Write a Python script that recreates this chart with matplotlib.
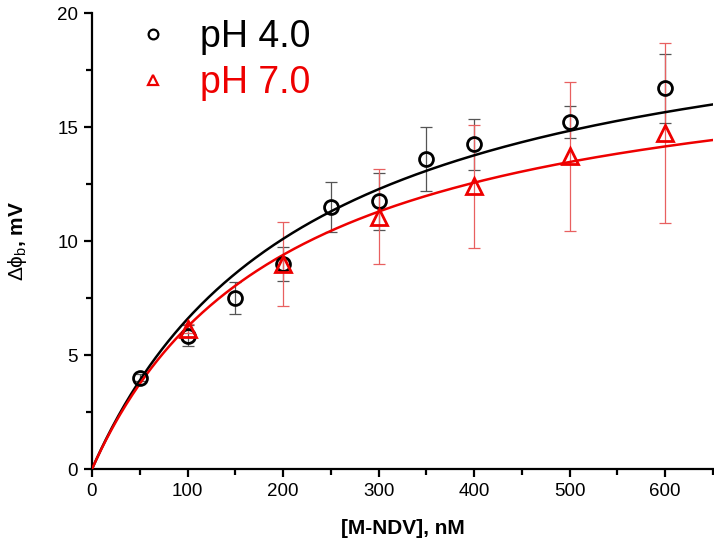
import numpy as np
import matplotlib
matplotlib.use("Agg")
import matplotlib.pyplot as plt
from matplotlib.ticker import MultipleLocator

plt.rcParams['font.family'] = ['Liberation Sans', 'DejaVu Sans']
plt.rcParams['mathtext.fontset'] = 'custom'
plt.rcParams['mathtext.rm'] = 'Liberation Sans'
plt.rcParams['mathtext.it'] = 'Liberation Sans'
plt.rcParams['mathtext.bf'] = 'Liberation Sans:bold'

# pH 4.0 data
x_ph4 = [50, 100, 150, 200, 250, 300, 350, 400, 500, 600]
y_ph4 = [4.0, 5.85, 7.5, 9.0, 11.5, 11.75, 13.6, 14.25, 15.2, 16.7]
e_ph4 = [0.15, 0.45, 0.7, 0.75, 1.1, 1.25, 1.4, 1.12, 0.7, 1.52]

# pH 7.0 data
x_ph7 = [100, 200, 300, 400, 500, 600]
y_ph7 = [6.15, 9.0, 11.07, 12.4, 13.72, 14.75]
e_ph7 = [0.2, 1.85, 2.1, 2.7, 3.27, 3.95]

# hyperbolic fit parameters (Bmax, Kd)
fit_ph4 = (21.6, 228.0)
fit_ph7 = (18.95, 203.6)

xlim = (0, 650)
ylim = (0, 20)

fig = plt.figure(figsize=(7.14, 5.51), dpi=100)
ax = fig.add_axes([92/714, 82/551, 621/714, 456/551])

xf = np.linspace(0, 650, 400)
ax.plot(xf, fit_ph4[0]*xf/(fit_ph4[1]+xf), color='black', lw=1.8, zorder=3)
ax.plot(xf, fit_ph7[0]*xf/(fit_ph7[1]+xf), color='#ee0000', lw=1.8, zorder=3)

ax.errorbar(x_ph4, y_ph4, yerr=e_ph4, fmt='none', ecolor='#555555', elinewidth=0.9,
            capsize=4.5, capthick=0.9, zorder=2)
ax.errorbar(x_ph7, y_ph7, yerr=e_ph7, fmt='none', ecolor='#e86060', elinewidth=0.9,
            capsize=4.5, capthick=0.9, zorder=2)

ax.plot(x_ph4, y_ph4, 'o', ms=10, mfc='none', mec='black', mew=2, zorder=4, label='pH 4.0')
ax.plot(x_ph7, y_ph7, '^', ms=11, mfc='none', mec='#ee0000', mew=2, zorder=5, label='pH 7.0')

ax.set_xlim(*xlim)
ax.set_ylim(*ylim)
ax.spines['top'].set_visible(False)
ax.spines['right'].set_visible(False)
for s in ('left', 'bottom'):
    ax.spines[s].set_linewidth(1.6)
ax.xaxis.set_major_locator(MultipleLocator(100))
ax.xaxis.set_minor_locator(MultipleLocator(50))
ax.yaxis.set_major_locator(MultipleLocator(5))
ax.yaxis.set_minor_locator(MultipleLocator(2.5))
ax.tick_params(which='major', direction='out', length=6, width=1.6, labelsize=13.5, pad=4)
ax.tick_params(which='minor', direction='out', length=4, width=1.6)

ax.set_xlabel('[M-NDV], nM', fontsize=15, fontweight='bold', labelpad=14)
ax.set_ylabel(r'$\Delta\phi_b$, mV', fontsize=15, fontweight='bold', labelpad=20)

leg = ax.legend(loc='upper left', bbox_to_anchor=(0.008, 1.06), frameon=False, fontsize=27,
                handletextpad=0.65, labelspacing=0.25, handlelength=1.2, markerscale=0.7)
for t, c in zip(leg.get_texts(), ['black', '#ee0000']):
    t.set_color(c)
for h in leg.legend_handles:
    h.set_markeredgewidth(1.6)

fig.savefig('out.png', dpi=100)
